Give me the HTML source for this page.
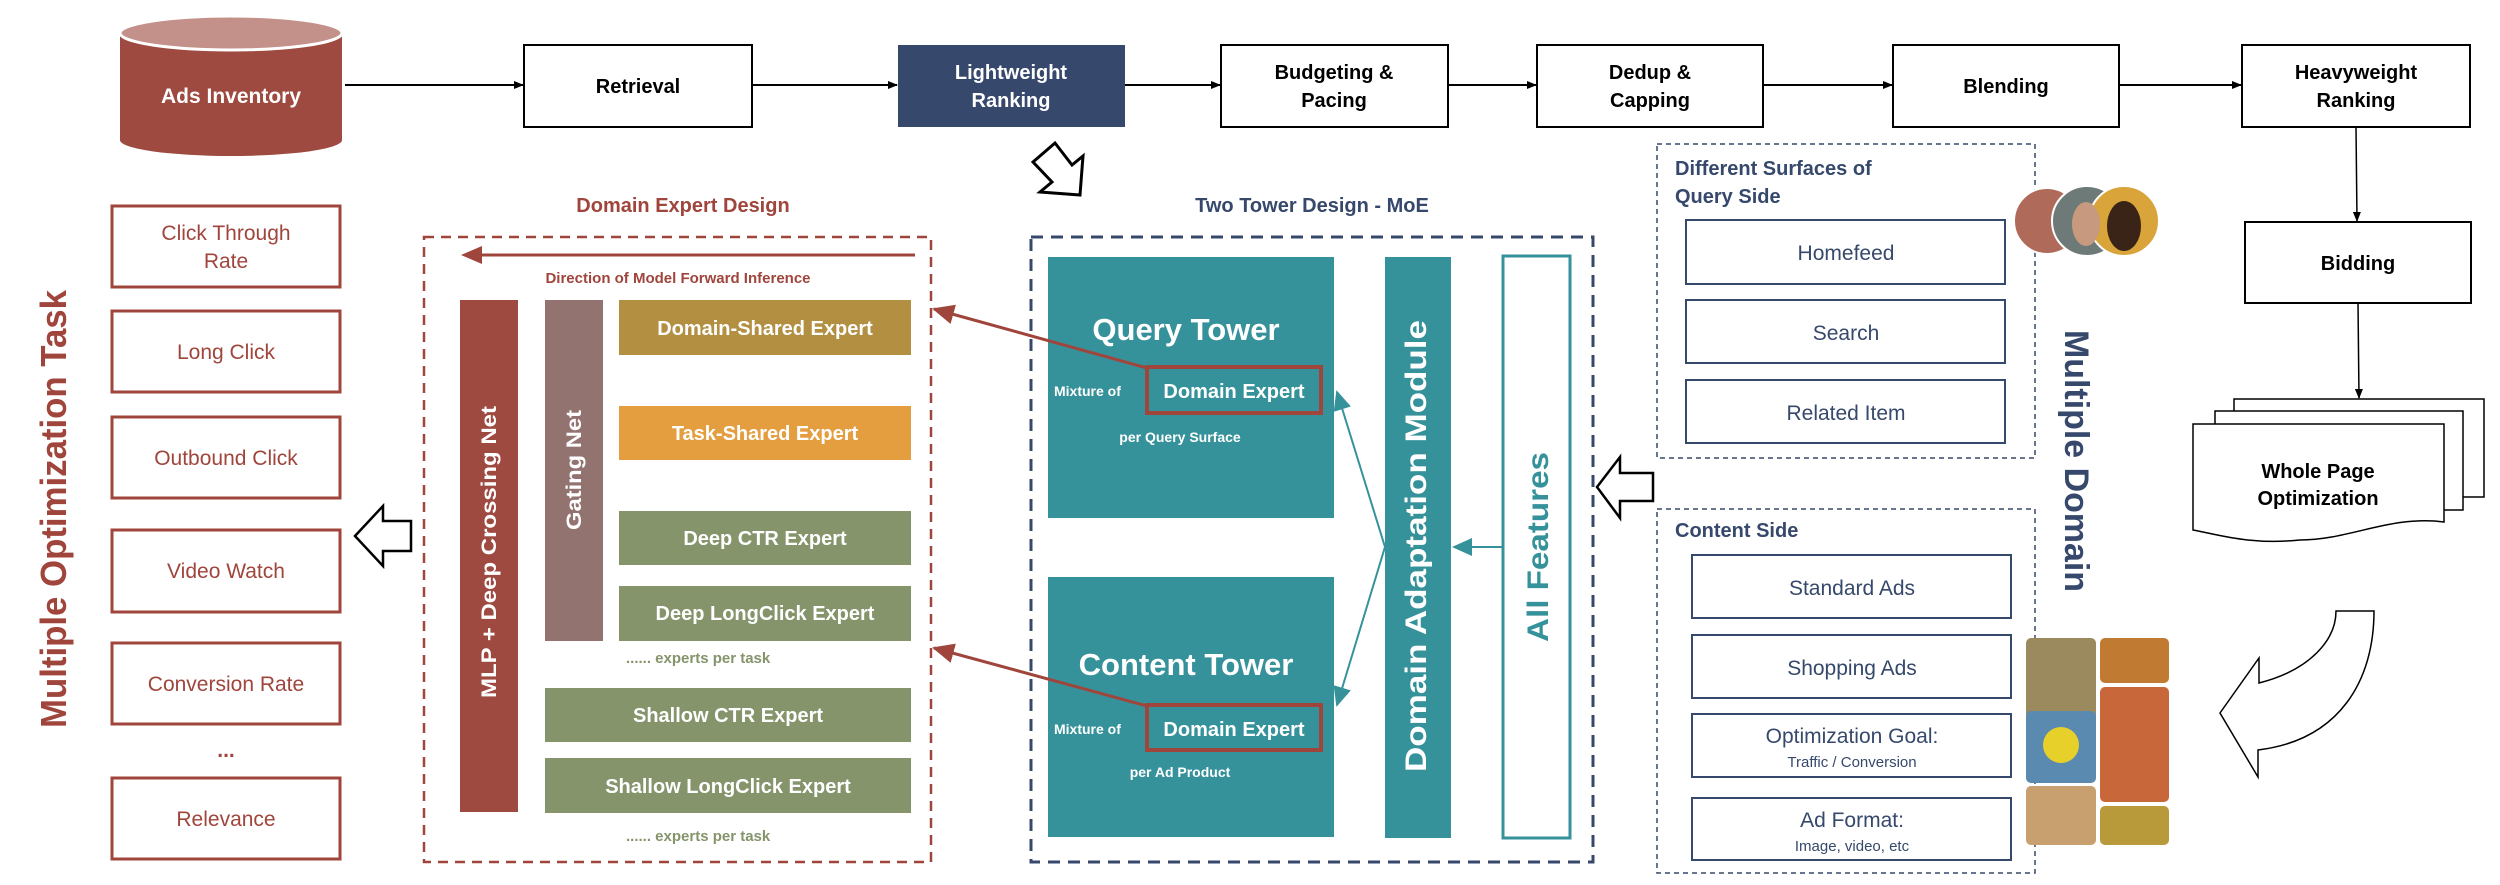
<!DOCTYPE html>
<html><head><meta charset="utf-8"><style>
html,body{margin:0;padding:0;background:#fff}
svg{display:block;font-family:"Liberation Sans",Arial,sans-serif}
</style></head><body>
<svg width="2500" height="885" viewBox="0 0 2500 885" xmlns="http://www.w3.org/2000/svg">
<defs>
<marker id="ab" markerWidth="10" markerHeight="10" refX="9" refY="5" orient="auto" markerUnits="userSpaceOnUse"><path d="M0,1 L10,5 L0,9 z" fill="#000"/></marker>
<marker id="ar" markerWidth="22" markerHeight="20" refX="20" refY="10" orient="auto" markerUnits="userSpaceOnUse"><path d="M0,0 L22,10 L0,20 z" fill="#a0453c"/></marker>
<marker id="at" markerWidth="20" markerHeight="18" refX="18" refY="9" orient="auto" markerUnits="userSpaceOnUse"><path d="M0,0 L20,9 L0,18 z" fill="#36929a"/></marker>
</defs>

<!-- Cylinder -->
<path d="M120,35 L120,140 A111,16 0 0 0 342,140 L342,35 z" fill="#9e4a40"/>
<ellipse cx="231" cy="33" rx="111" ry="17" fill="#c4908a" stroke="#fff" stroke-width="3"/>
<text x="231" y="103" font-size="21" font-weight="bold" fill="#fff" text-anchor="middle">Ads Inventory</text>

<!-- pipeline -->
<g stroke="#000" stroke-width="2" fill="#fff">
<rect x="524" y="45" width="228" height="82"/>
<rect x="1221" y="45" width="227" height="82"/>
<rect x="1537" y="45" width="226" height="82"/>
<rect x="1893" y="45" width="226" height="82"/>
<rect x="2242" y="45" width="228" height="82"/>
<rect x="2245" y="222" width="226" height="81"/>
</g>
<rect x="898" y="45" width="227" height="82" fill="#36486b"/>
<g stroke="#000" stroke-width="2" marker-end="url(#ab)">
<line x1="345" y1="85" x2="523" y2="85"/>
<line x1="752" y1="85" x2="897" y2="85"/>
<line x1="1125" y1="85" x2="1220" y2="85"/>
<line x1="1448" y1="85" x2="1536" y2="85"/>
<line x1="1763" y1="85" x2="1892" y2="85"/>
<line x1="2119" y1="85" x2="2241" y2="85"/>
<line x1="2356" y1="127" x2="2357" y2="221" stroke-width="1.5"/>
<line x1="2358" y1="303" x2="2359" y2="398" stroke-width="1.5"/>
</g>
<g font-size="20" font-weight="bold" text-anchor="middle" fill="#000">
<text x="638" y="93">Retrieval</text>
<text x="1011" y="79" fill="#fff">Lightweight</text>
<text x="1011" y="107" fill="#fff">Ranking</text>
<text x="1334" y="79">Budgeting &amp;</text>
<text x="1334" y="107">Pacing</text>
<text x="1650" y="79">Dedup &amp;</text>
<text x="1650" y="107">Capping</text>
<text x="2006" y="93">Blending</text>
<text x="2356" y="79">Heavyweight</text>
<text x="2356" y="107">Ranking</text>
<text x="2358" y="270">Bidding</text>
</g>

<!-- document stack -->
<g stroke="#000" stroke-width="1.5" fill="#fff">
<path d="M2234,399 L2484,399 L2484,497 L2234,497 z"/>
<path d="M2215,411 L2463,411 L2463,510 L2215,510 z"/>
<path d="M2193,424 L2444,424 L2444,522 C2390,515 2350,540 2300,540 C2250,545 2220,535 2193,530 z"/>
</g>
<text x="2318" y="478" font-size="20" font-weight="bold" text-anchor="middle">Whole Page</text>
<text x="2318" y="505" font-size="20" font-weight="bold" text-anchor="middle">Optimization</text>

<!-- curved arrow bottom right -->
<path d="M2336,611 L2374,611 C2374,680 2340,740 2258,750 L2258,777 L2220,713 L2259,658 L2259,683 C2310,670 2336,640 2336,611 z" fill="#fff" stroke="#000" stroke-width="1.5"/>

<!-- small hollow arrow under lightweight -->
<path d="M1033,162 L1055,143 L1072,165 L1083,156 L1080,195 L1040,192 L1052,182 z" fill="#fff" stroke="#000" stroke-width="3"/>

<!-- Query side box -->
<rect x="1657" y="144" width="378" height="314" fill="none" stroke="#36486b" stroke-width="1.5" stroke-dasharray="5,4"/>
<text x="1675" y="175" font-size="20" font-weight="bold" fill="#36486b">Different Surfaces of</text>
<text x="1675" y="203" font-size="20" font-weight="bold" fill="#36486b">Query Side</text>
<g stroke="#36486b" stroke-width="2" fill="#fff">
<rect x="1686" y="220" width="319" height="64"/>
<rect x="1686" y="300" width="319" height="63"/>
<rect x="1686" y="380" width="319" height="63"/>
<rect x="1692" y="555" width="319" height="63"/>
<rect x="1692" y="635" width="319" height="63"/>
<rect x="1692" y="714" width="319" height="63"/>
<rect x="1692" y="798" width="319" height="62"/>
</g>
<g font-size="21" fill="#36486b" text-anchor="middle">
<text x="1846" y="260">Homefeed</text>
<text x="1846" y="340">Search</text>
<text x="1846" y="420">Related Item</text>
<text x="1852" y="595">Standard Ads</text>
<text x="1852" y="675">Shopping Ads</text>
<text x="1852" y="743">Optimization Goal:</text>
<text x="1852" y="767" font-size="15">Traffic / Conversion</text>
<text x="1852" y="827">Ad Format:</text>
<text x="1852" y="851" font-size="15">Image, video, etc</text>
</g>
<!-- faces -->
<circle cx="2047" cy="221" r="33" fill="#b06a5a" stroke="#fff" stroke-width="2"/>
<circle cx="2087" cy="221" r="35" fill="#6d7a78" stroke="#fff" stroke-width="2"/>
<circle cx="2124" cy="221" r="35" fill="#d9a43a" stroke="#fff" stroke-width="2"/>
<ellipse cx="2124" cy="226" rx="17" ry="25" fill="#3a2418"/>
<ellipse cx="2086" cy="224" rx="14" ry="22" fill="#c79a80"/>

<!-- Content side box -->
<rect x="1657" y="509" width="378" height="364" fill="none" stroke="#36486b" stroke-width="1.5" stroke-dasharray="5,4"/>
<text x="1675" y="537" font-size="20" font-weight="bold" fill="#36486b">Content Side</text>
<!-- product images -->
<rect x="2026" y="638" width="70" height="84" rx="5" fill="#9a8a5e"/>
<rect x="2100" y="638" width="69" height="45" rx="5" fill="#c07a32"/>
<rect x="2100" y="687" width="69" height="115" rx="5" fill="#c8683a"/>
<rect x="2026" y="711" width="70" height="72" rx="5" fill="#5a8ab0"/>
<circle cx="2061" cy="745" r="18" fill="#e8d02a"/>
<rect x="2026" y="786" width="70" height="59" rx="5" fill="#c8a070"/>
<rect x="2100" y="806" width="69" height="39" rx="5" fill="#b89a3a"/>

<text transform="translate(2065,461) rotate(90)" font-size="34" font-weight="bold" fill="#36486b" text-anchor="middle" textLength="262" lengthAdjust="spacingAndGlyphs">Multiple Domain</text>

<!-- big hollow arrow between domain and all features -->
<path d="M1597,487 L1620,457 L1620,473 L1653,473 L1653,501 L1620,501 L1620,518 z" fill="#fff" stroke="#000" stroke-width="2.5"/>

<!-- MoE -->
<text x="1312" y="212" font-size="20" font-weight="bold" fill="#36486b" text-anchor="middle">Two Tower Design - MoE</text>
<rect x="1031" y="237" width="562" height="625" fill="none" stroke="#36486b" stroke-width="3" stroke-dasharray="12,8"/>
<rect x="1048" y="257" width="286" height="261" fill="#36929a"/>
<rect x="1048" y="577" width="286" height="260" fill="#36929a"/>
<rect x="1385" y="257" width="66" height="581" fill="#36929a"/>
<rect x="1503" y="256" width="67" height="582" fill="#fff" stroke="#36929a" stroke-width="3"/>
<text x="1186" y="340" font-size="31" font-weight="bold" fill="#fff" text-anchor="middle">Query Tower</text>
<text x="1186" y="675" font-size="31" font-weight="bold" fill="#fff" text-anchor="middle">Content Tower</text>
<rect x="1147" y="367" width="174" height="46" fill="none" stroke="#a0453c" stroke-width="4"/>
<rect x="1147" y="705" width="174" height="45" fill="none" stroke="#a0453c" stroke-width="4"/>
<g fill="#fff" font-weight="bold">
<text x="1054" y="396" font-size="14">Mixture of</text>
<text x="1234" y="398" font-size="20" text-anchor="middle">Domain Expert</text>
<text x="1180" y="442" font-size="14" text-anchor="middle">per Query Surface</text>
<text x="1054" y="734" font-size="14">Mixture of</text>
<text x="1234" y="736" font-size="20" text-anchor="middle">Domain Expert</text>
<text x="1180" y="777" font-size="14" text-anchor="middle">per Ad Product</text>
</g>
<text transform="translate(1426,546) rotate(-90)" font-size="30" font-weight="bold" fill="#fff" text-anchor="middle" textLength="452" lengthAdjust="spacingAndGlyphs">Domain Adaptation Module</text>
<text transform="translate(1548,547) rotate(-90)" font-size="30" font-weight="bold" fill="#36929a" text-anchor="middle" textLength="190" lengthAdjust="spacingAndGlyphs">All Features</text>
<g stroke="#36929a" stroke-width="2" fill="none">
<line x1="1503" y1="547" x2="1454" y2="547" marker-end="url(#at)"/>
<line x1="1385" y1="547" x2="1337" y2="392" marker-end="url(#at)"/>
<line x1="1385" y1="547" x2="1337" y2="705" marker-end="url(#at)"/>
</g>

<!-- red arrows -->
<g stroke="#a0453c" stroke-width="3">
<line x1="1147" y1="368" x2="934" y2="309" marker-end="url(#ar)"/>
<line x1="1147" y1="706" x2="934" y2="648" marker-end="url(#ar)"/>
</g>

<!-- Domain expert design -->
<text x="683" y="212" font-size="20" font-weight="bold" fill="#a0453c" text-anchor="middle">Domain Expert Design</text>
<rect x="424" y="237" width="507" height="625" fill="none" stroke="#a0453c" stroke-width="2.5" stroke-dasharray="10,7"/>
<line x1="915" y1="255" x2="480" y2="255" stroke="#a0453c" stroke-width="3"/>
<path d="M461,255 L482,246 L482,264 z" fill="#a0453c"/>
<text x="678" y="283" font-size="15" font-weight="bold" fill="#a0453c" text-anchor="middle">Direction of Model Forward Inference</text>
<rect x="460" y="300" width="58" height="512" fill="#9e4a40"/>
<rect x="545" y="300" width="58" height="341" fill="#937370"/>
<text transform="translate(496,552) rotate(-90)" font-size="21" font-weight="bold" fill="#fff" text-anchor="middle" textLength="292" lengthAdjust="spacingAndGlyphs">MLP + Deep Crossing Net</text>
<text transform="translate(581,470) rotate(-90)" font-size="21" font-weight="bold" fill="#fff" text-anchor="middle" textLength="120" lengthAdjust="spacingAndGlyphs">Gating Net</text>
<rect x="619" y="300" width="292" height="55" fill="#b38f42"/>
<rect x="619" y="406" width="292" height="54" fill="#e59e3f"/>
<rect x="619" y="511" width="292" height="54" fill="#85946b"/>
<rect x="619" y="586" width="292" height="55" fill="#85946b"/>
<rect x="545" y="688" width="366" height="54" fill="#85946b"/>
<rect x="545" y="758" width="366" height="55" fill="#85946b"/>
<g font-size="20" font-weight="bold" fill="#fff" text-anchor="middle">
<text x="765" y="335">Domain-Shared Expert</text>
<text x="765" y="440">Task-Shared Expert</text>
<text x="765" y="545">Deep CTR Expert</text>
<text x="765" y="620">Deep LongClick Expert</text>
<text x="728" y="722">Shallow CTR Expert</text>
<text x="728" y="793">Shallow LongClick Expert</text>
</g>
<text x="626" y="663" font-size="15" font-weight="bold" fill="#85946b">...... experts per task</text>
<text x="626" y="841" font-size="15" font-weight="bold" fill="#85946b">...... experts per task</text>

<!-- hollow arrow left -->
<path d="M355,536 L383,506 L383,521 L411,521 L411,551 L383,551 L383,566 z" fill="#fff" stroke="#000" stroke-width="2.5"/>

<!-- task boxes -->
<g stroke="#a0453c" stroke-width="3" fill="#fff">
<rect x="112" y="206" width="228" height="81"/>
<rect x="112" y="311" width="228" height="81"/>
<rect x="112" y="417" width="228" height="81"/>
<rect x="112" y="530" width="228" height="82"/>
<rect x="112" y="643" width="228" height="81"/>
<rect x="112" y="778" width="228" height="81"/>
</g>
<g font-size="21" fill="#a0453c" text-anchor="middle">
<text x="226" y="240">Click Through</text>
<text x="226" y="268">Rate</text>
<text x="226" y="359">Long Click</text>
<text x="226" y="465">Outbound Click</text>
<text x="226" y="578">Video Watch</text>
<text x="226" y="691">Conversion Rate</text>
<text x="226" y="757" font-weight="bold">...</text>
<text x="226" y="826">Relevance</text>
</g>
<text transform="translate(66,509) rotate(-90)" font-size="36" font-weight="bold" fill="#a0453c" text-anchor="middle" textLength="438" lengthAdjust="spacingAndGlyphs">Multiple Optimization Task</text>
</svg>
</body></html>
